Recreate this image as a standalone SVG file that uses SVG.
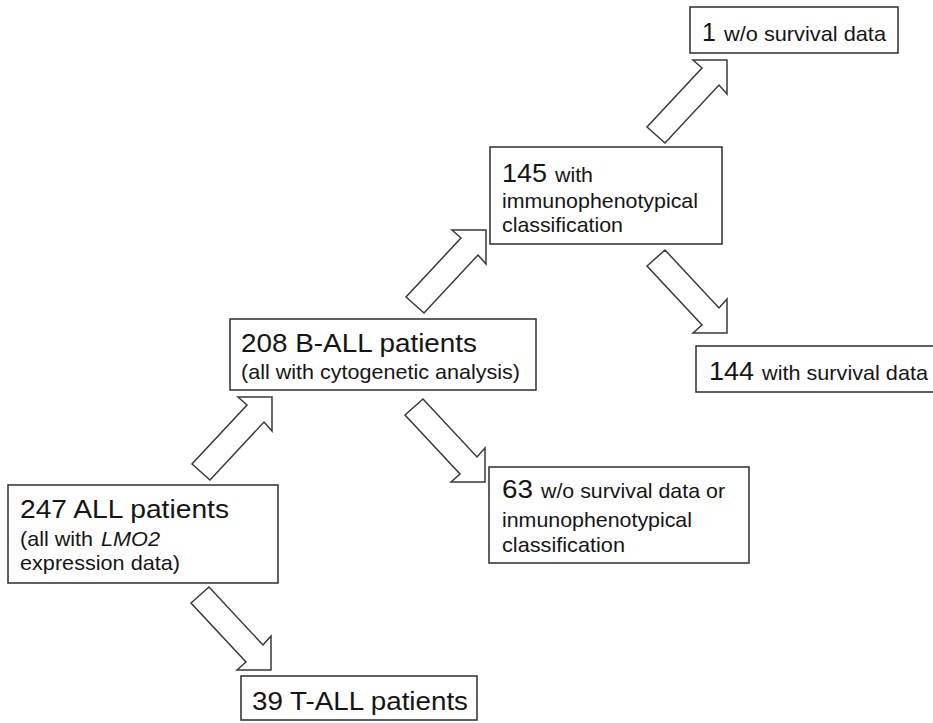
<svg xmlns="http://www.w3.org/2000/svg" width="933" height="723" viewBox="0 0 933 723">
<style>
  .box { fill: #fff; stroke: #3a3a3a; stroke-width: 1.6; }
  .arrow { fill: #fff; stroke: #3a3a3a; stroke-width: 1.5; stroke-linejoin: miter; }
  text { font-family: "Liberation Sans", Arial, sans-serif; fill: #151515; }
  .big { font-size: 25px; }
  .small { font-size: 21px; }
  .it { font-style: italic; }
</style>
<rect x="0" y="0" width="933" height="723" fill="#fff"/>
<g id="connectors">
  <polygon class="arrow" points="271,670 237,670 246,662 191,603 209,587 263,645 271,636"/>
  <polygon class="arrow" points="272,397 238,397 247,405 192,464 210,480 264,422 272,431"/>
  <polygon class="arrow" points="485,482 451,482 460,474 405,415 423,399 477,457 485,448"/>
  <polygon class="arrow" points="486,230 452,230 461,238 406,297 424,313 478,255 486,264"/>
  <polygon class="arrow" points="727,60 693,60 702,68 647,127 665,143 719,85 727,94"/>
  <polygon class="arrow" points="727,333 693,333 702,325 647,266 665,250 719,308 727,299"/>
</g>
<g id="n247">
  <rect class="box" x="8" y="485" width="270" height="98"/>
  <text class="big" x="20" y="518" textLength="209" lengthAdjust="spacingAndGlyphs">247 ALL patients</text>
  <text class="small" x="20" y="546" textLength="73" lengthAdjust="spacingAndGlyphs">(all with</text>
  <text class="small it" x="101" y="546" textLength="59" lengthAdjust="spacingAndGlyphs">LMO2</text>
  <text class="small" x="20" y="570" textLength="160" lengthAdjust="spacingAndGlyphs">expression data)</text>
</g>
<g id="n39">
  <rect class="box" x="241" y="676" width="236" height="44"/>
  <text class="big" x="252" y="710" textLength="216" lengthAdjust="spacingAndGlyphs">39 T-ALL patients</text>
</g>
<g id="n208">
  <rect class="box" x="230" y="319" width="306" height="71"/>
  <text class="big" x="241" y="352" textLength="236" lengthAdjust="spacingAndGlyphs">208 B-ALL patients</text>
  <text class="small" x="241" y="379" textLength="279" lengthAdjust="spacingAndGlyphs">(all with cytogenetic analysis)</text>
</g>
<g id="n63">
  <rect class="box" x="489" y="467" width="260" height="96"/>
  <text class="big" x="502" y="498" textLength="31" lengthAdjust="spacingAndGlyphs">63</text>
  <text class="small" x="541" y="498" textLength="184" lengthAdjust="spacingAndGlyphs">w/o survival data or</text>
  <text class="small" x="502" y="527" textLength="190" lengthAdjust="spacingAndGlyphs">inmunophenotypical</text>
  <text class="small" x="502" y="552" textLength="123" lengthAdjust="spacingAndGlyphs">classification</text>
</g>
<g id="n145">
  <rect class="box" x="490" y="147" width="232" height="97"/>
  <text class="big" x="502" y="182" textLength="45" lengthAdjust="spacingAndGlyphs">145</text>
  <text class="small" x="555" y="182" textLength="38" lengthAdjust="spacingAndGlyphs">with</text>
  <text class="small" x="502" y="208" textLength="196" lengthAdjust="spacingAndGlyphs">immunophenotypical</text>
  <text class="small" x="502" y="232" textLength="121" lengthAdjust="spacingAndGlyphs">classification</text>
</g>
<g id="n1">
  <rect class="box" x="690" y="7" width="208" height="46"/>
  <text class="big" x="702" y="41">1</text>
  <text class="small" x="724" y="41" textLength="162" lengthAdjust="spacingAndGlyphs">w/o survival data</text>
</g>
<g id="n144">
  <rect class="box" x="696" y="346" width="250" height="46"/>
  <text class="big" x="709" y="380" textLength="45" lengthAdjust="spacingAndGlyphs">144</text>
  <text class="small" x="762" y="380" textLength="166" lengthAdjust="spacingAndGlyphs">with survival data</text>
</g>
</svg>
